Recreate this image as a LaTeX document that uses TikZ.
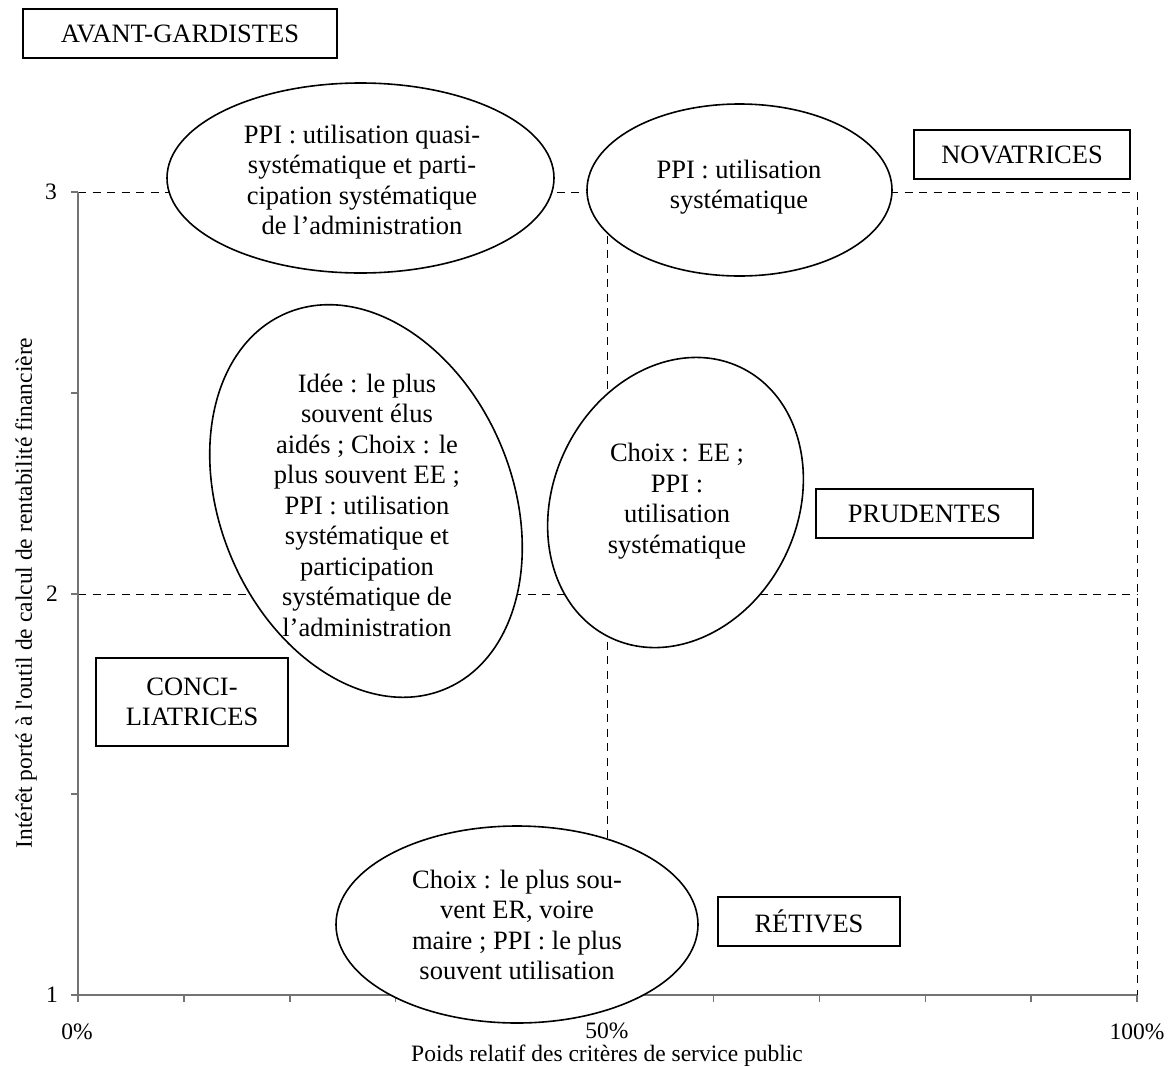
\documentclass[tikz,border=0pt]{standalone}
\usepackage{fontspec}
\setmainfont{Liberation Serif}
\usetikzlibrary{shapes.geometric}
\begin{document}
\begin{tikzpicture}[x=1pt,y=-1pt,
  txt/.style={font=\fontsize{26.5}{30.5}\selectfont, align=center, inner sep=0pt},
  ticklbl/.style={font=\fontsize{23.5}{26}\selectfont, inner sep=0pt},
  axtitle/.style={font=\fontsize{23.5}{26}\selectfont, inner sep=0pt},
  catbox/.style={draw, line width=1.5pt, fill=white, rectangle, inner sep=0pt,
                 font=\fontsize{26.5}{30.5}\selectfont, align=center},
  ell/.style={ellipse, draw, line width=1.6pt, fill=white, inner sep=0pt},
  axisline/.style={draw=black!55, line width=1.4pt},
  guide/.style={draw=black, line width=0.9pt, dash pattern=on 8pt off 6.5pt}]
\useasboundingbox (0,0) rectangle (1170,1066);

% reference points
\coordinate (O) at (78,995);
\coordinate (XE) at (1137,995);
\coordinate (YT) at (78,192);
\coordinate (H3a) at (78,192);   \coordinate (H3b) at (1137,192);
\coordinate (H2a) at (78,594);   \coordinate (H2b) at (1137,594);
\coordinate (V5a) at (607,192);  \coordinate (V5b) at (607,995);
\coordinate (V10a) at (1137,192); \coordinate (V10b) at (1137,995);

% dashed guides
\draw[guide] (H3a) -- (H3b);
\draw[guide] (H2a) -- (H2b);
\draw[guide] (V5a) -- (V5b);
\draw[guide] (V10a) -- (V10b);

% axes
\draw[axisline] (YT) -- (O) -- (XE);
\foreach \i in {0,...,10} {
  \draw[axisline] ({78+105.9*\i},995) -- ++(0,7);
}
\foreach \yy in {192,393,594,794,995} {
  \draw[axisline] (78,\yy) -- ++(-7,0);
}

% tick labels
\node[ticklbl] (l3) at (51,192) {3};
\node[ticklbl] (l2) at (52,594) {2};
\node[ticklbl] (l1) at (52,995) {1};
\node[ticklbl] (p0) at (77,1032) {0\%};
\node[ticklbl] (p50) at (607,1031) {50\%};
\node[ticklbl] (p100) at (1137,1032) {100\%};
\node[axtitle] (xt) at (607,1056) {Poids relatif des critères de service public};
\node[axtitle, rotate=90] (yt) at (26,593) {Intérêt porté à l\textquotesingle outil de calcul de rentabilité financière};

% ellipses
\node[ell, minimum width=387pt, minimum height=190pt] (e1) at (360.5,178) {};
\node[txt] (t1) at (362,180) {PPI : utilisation quasi-\\systématique et parti-\\cipation systématique\\de l’administration};

\node[ell, minimum width=305pt, minimum height=172pt] (e2) at (739.5,190) {};
\node[txt] (t2) at (739,187) {PPI : utilisation\\systématique};

\node[ell, minimum width=292pt, minimum height=408pt, rotate=23] (e3) at (366,501) {};
\node[txt] (t3) at (367,505) {Idée : le plus\\souvent élus\\aidés ; Choix : le\\plus souvent EE ;\\PPI : utilisation\\systématique et\\participation\\systématique de\\l’administration};

\node[ell, minimum width=244pt, minimum height=300pt, rotate=-26] (e4) at (675.5,502.5) {};
\node[txt] (t4) at (677,501) {Choix : EE ;\\PPI :\\utilisation\\systématique};

\node[ell, minimum width=362pt, minimum height=197pt] (e5) at (517,924.5) {};
\node[txt] (t5) at (517,925) {Choix : le plus sou-\\vent ER, voire\\maire ; PPI : le plus\\souvent utilisation};

% category boxes
\node[catbox, minimum width=314pt, minimum height=49pt] (avant) at (180,33.5) {AVANT-GARDISTES};
\node[catbox, minimum width=216pt, minimum height=49pt] (nova) at (1022,154.5) {NOVATRICES};
\node[catbox, minimum width=217pt, minimum height=49pt] (prud) at (924.5,513.5) {PRUDENTES};
\node[catbox, minimum width=182pt, minimum height=49pt] (retiv) at (809,921.5) {RÉTIVES};
\node[catbox, minimum width=192pt, minimum height=88pt] (conci) at (192,702) {CONCI-\\LIATRICES};
\end{tikzpicture}
\end{document}
